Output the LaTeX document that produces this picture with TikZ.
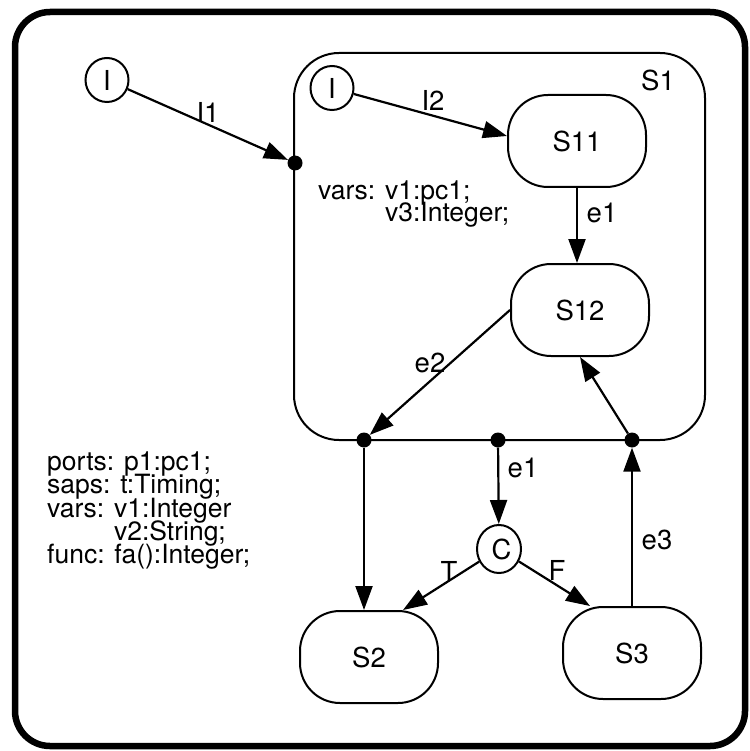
\documentclass[tikz,border=0pt]{standalone}
\usepackage{fontspec}
\setmainfont{TeX Gyre Heros}
\usetikzlibrary{arrows.meta,shapes.geometric}
\begin{document}
\begin{tikzpicture}[x=1pt,y=-1pt,
  txt/.style={font=\fontsize{27.5}{23}\selectfont},
  state/.style={draw,line width=2pt,rounded corners=40pt,minimum width=138pt,minimum height=92pt,inner sep=0pt,txt},
  init/.style={draw,ellipse,line width=2pt,minimum width=43pt,minimum height=44pt,inner sep=0pt,txt},
  dot/.style={circle,fill,inner sep=0pt,minimum size=15pt},
  arr/.style={line width=2.2pt,-{Triangle[length=24pt,width=17pt]}},
  lbl/.style={inner sep=0pt,txt},
  line/.style={font=\fontsize{26.5}{23}\selectfont,anchor=base west,inner sep=0pt,text height=17pt,text depth=4pt}
]
\useasboundingbox (0,0) rectangle (749,751);
% outer frame
\draw[line width=6.5pt, rounded corners=35pt] (15,12) rectangle (745,746);
% S1 superstate
\draw[line width=2pt, rounded corners=45pt] (294,53) rectangle (705,440);
\node[lbl] (S1lbl) at (658,80) {S1};
% states
\node[init] (I0) at (107,80) {I};
\node[init] (I1n) at (332,88) {I};
\node[state] (S11) at (577,141) {S11};
\node[state] (S12) at (580,310) {S12};
\node[state] (S2) at (369,657) {S2};
\node[state] (S3) at (632,653) {S3};
\node[init, minimum width=44pt, minimum height=48pt] (C) at (499,549) {\hspace*{5pt}C};
% dots
\node[dot] (d0) at (295,163) {};
\node[dot] (d1) at (364,440) {};
\node[dot] (d2) at (498,440) {};
\node[dot] (d3) at (632,440) {};
% arrows
\draw[arr] (I0) -- (d0);
\draw[arr] (I1n) -- ([yshift=5pt]S11.west);
\draw[arr] (S11.south) -- (S11.south |- S12.north);
\draw[arr] (S12.west) -- (d1);
\draw[arr] (d3) -- (S12.south);
\draw[arr] (d1) -- (d1 |- S2.north);
\draw[arr] (d2) -- (C);
\draw[arr] (C) -- ([xshift=-36pt]S2.north east);
\draw[arr] (C) -- ([xshift=28pt]S3.north west);
\draw[arr] (S3.north) -- (d3);
% labels
\node[lbl] (lI1) at (208,112) {I1};
\node[lbl] (lI2) at (433,100) {I2};
\node[lbl] (le1a) at (602,213) {e1};
\node[lbl] (le2) at (430,363) {e2};
\node[lbl] (le1b) at (523,468) {e1};
\node[lbl] (le3) at (657,540) {e3};
\node[lbl] (lT) at (449,571) {T};
\node[lbl] (lF) at (557,570) {F};
% declarations inside S1
\node[line] (v1a) at (318,200) {vars: v1:pc1;};
\node[line] (v1b) at (318,222) {\phantom{vars: }v3:Integer;};
% declarations of the outer state
\node[line] (dl1) at (47,470) {ports: p1:pc1;};
\node[line] (dl2) at (47,493.5) {saps: t:Timing;};
\node[line] (dl3) at (47,517) {vars: v1:Integer};
\node[line] (dl4) at (47,540) {\phantom{vars: }v2:String;};
\node[line] (dl5) at (47,563.5) {func: fa():Integer;};
\end{tikzpicture}
\end{document}
